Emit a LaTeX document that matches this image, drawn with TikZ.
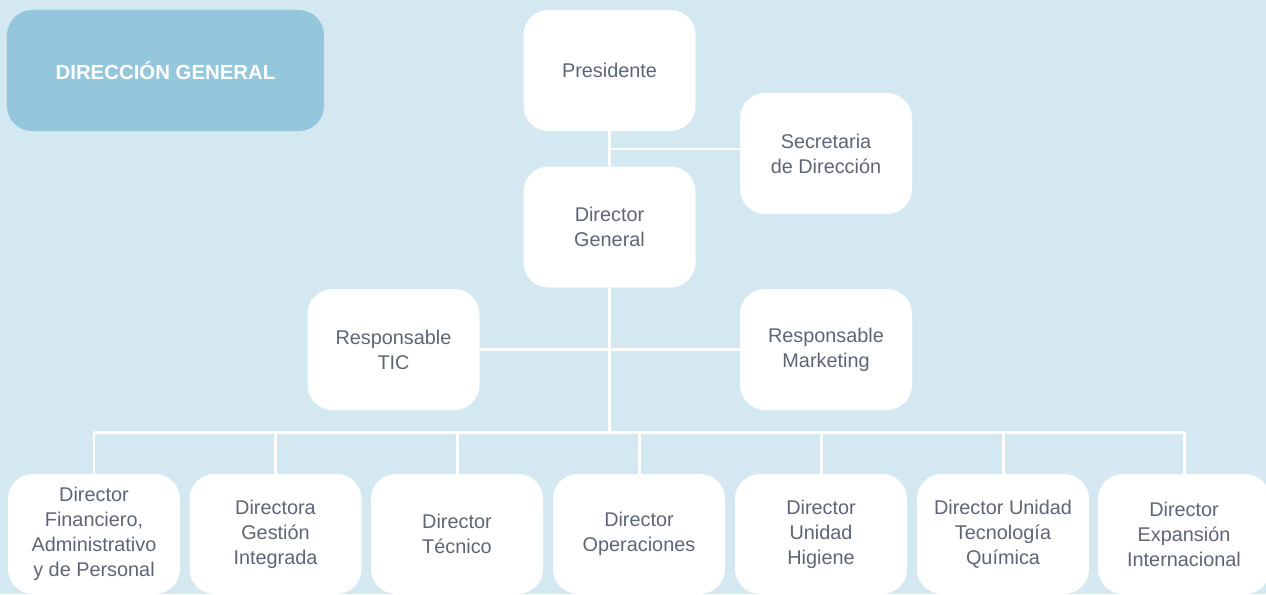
\documentclass[tikz,border=0pt]{standalone}
\usepackage{fontspec}
\setmainfont{Liberation Sans}
\definecolor{fondo}{HTML}{D4E8F1}
\definecolor{cabecera}{HTML}{95C7DC}
\definecolor{texto}{HTML}{5E6675}
\begin{document}
\begin{tikzpicture}
		\tikzset{caja/.style = {shape=rectangle, fill=white, rounded corners=0.5cm, minimum width=3.44cm, minimum height=2.42cm, inner sep=0pt, align=center, text=texto, font=\fontsize{11.3}{14.2}\selectfont}}
		\tikzset{linea/.style = {draw=white, line width=1.7pt}}

		\useasboundingbox (0,0) rectangle (25.32,11.88);
		\fill[fondo] (0,0) rectangle (25.32,11.88);

		\node[caja, fill=cabecera, minimum width=6.34cm, text=white, font=\fontsize{11.6}{14}\selectfont\bfseries] (dg) at (3.31,10.47) {DIRECCIÓN GENERAL};

		\node[caja] (pres) at (12.19,10.47) {Presidente};
		\node[caja] (sec) at (16.52,8.81) {Secretaria\\de Dirección};
		\node[caja] (gen) at (12.19,7.34) {Director\\General};
		\node[caja] (tic) at (7.87,4.89) {Responsable\\TIC};
		\node[caja] (mkt) at (16.52,4.89) {Responsable\\Marketing};

		\node[caja, minimum height=2.4cm] (b1) at (1.88,1.2) {Director\\Financiero,\\Administrativo\\y de Personal};
		\node[caja, minimum height=2.4cm] (b2) at (5.51,1.2) {Directora\\Gestión\\Integrada};
		\node[caja, minimum height=2.4cm] (b3) at (9.14,1.2) {Director\\Técnico};
		\node[caja, minimum height=2.4cm] (b4) at (12.78,1.2) {Director\\Operaciones};
		\node[caja, minimum height=2.4cm] (b5) at (16.42,1.2) {Director\\Unidad\\Higiene};
		\node[caja, minimum height=2.4cm] (b6) at (20.06,1.2) {Director Unidad\\Tecnología\\Química};
		\node[caja, minimum height=2.4cm] (b7) at (23.68,1.2) {Director\\Expansión\\Internacional};

		\coordinate (s) at (12.19,8.9);
		\coordinate (bus) at (12.19,3.24);

		\draw[linea] (pres) -- (gen);
		\draw[linea] (s) -- (s -| sec.west);
		\draw[linea] (tic.east) -- (mkt.west);
		\draw[linea] (gen) -- (bus);
		\draw[linea] (b1.north |- bus) -- (b7.north |- bus);
		\foreach \n in {b1,b2,b3,b4,b5,b6,b7}
			\draw[linea] (\n.north |- bus) -- (\n.north);

	\end{tikzpicture}
\end{document}
